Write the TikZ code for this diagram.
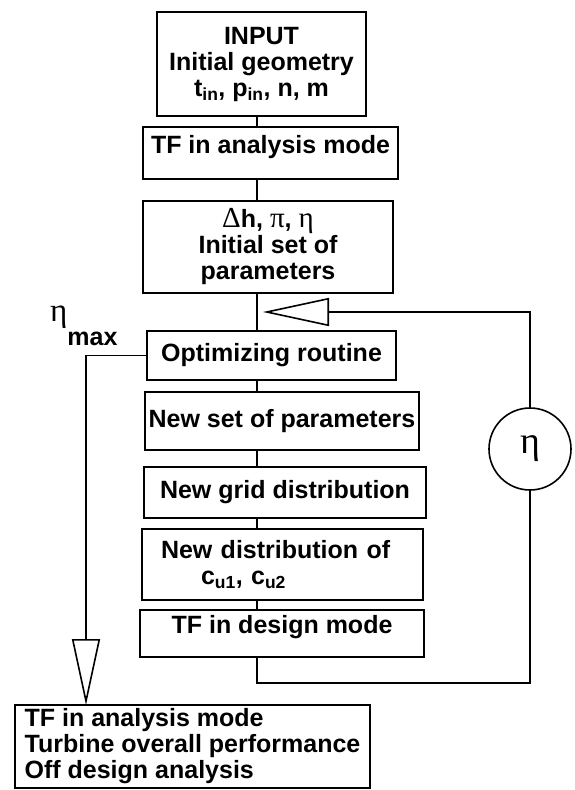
\documentclass[tikz,border=0pt]{standalone}
\usepackage{fontspec}
\setmainfont{Liberation Sans}
\newfontfamily\grk{Liberation Serif}
\usepackage{tikz}
\usetikzlibrary{arrows.meta}

\tikzset{
  blok/.style={draw, line width=1.6pt, inner sep=0pt, outer sep=0pt, anchor=north west,
    align=center, font=\bfseries\fontsize{25}{26}\selectfont},
  wire/.style={line width=1.6pt},
  bigtip/.style={-{Triangle[open, length=66pt, width=28pt, line width=1.6pt]}}
}
% greek letters come from the serif face, not bold
\newcommand{\gk}[1]{{\mdseries\grk\fontsize{29}{26}\selectfont #1}}

\begin{document}
\begin{tikzpicture}[x=1pt, y=1pt]
\useasboundingbox (0,0) rectangle (574,-790);

% main column
\node[blok, minimum width=209pt, minimum height=104pt] (input) at (157,-12)
  {INPUT\\Initial geometry\\t\textsubscript{in}, p\textsubscript{in}, n, m};
\node[blok, minimum width=255pt, minimum height=52pt, text height=18pt, text depth=18pt] (tfa) at (143,-127)
  {TF in analysis mode};
\node[blok, minimum width=250pt, minimum height=92pt] (init) at (143,-201)
  {\gk{Δ}h, \gk{π}, \gk{η}\\Initial set of\\parameters};
\node[blok, minimum width=249pt, minimum height=49pt] (opt) at (147,-331)
  {Optimizing routine};
\node[blok, minimum width=274pt, minimum height=58pt] (newset) at (145,-392)
  {New set of parameters};
\node[blok, minimum width=282pt, minimum height=51pt] (grid) at (144,-467)
  {New grid distribution};
\node[blok, minimum height=71pt, inner xsep=19pt, text width=243pt, align=left] (dist) at (142,-529)
  {New distribution of\\\hspace*{40pt}c\textsubscript{u1}, c\textsubscript{u2}};
\node[blok, minimum width=284pt, minimum height=47pt, text height=18pt, text depth=18pt] (design) at (140,-610)
  {TF in design mode};
\node[blok, minimum width=355pt, minimum height=83pt, align=left] (out) at (15,-705)
  {TF in analysis mode\\Turbine overall performance\\Off design analysis};

% loop pieces
\node[draw, circle, line width=1.6pt, minimum size=82pt, inner sep=0pt] (eta) at (530,-449)
  {\grk\fontsize{38}{38}\selectfont η};
\node[anchor=base west, inner sep=0pt, font=\bfseries\fontsize{25}{26}\selectfont] (etamax) at (50,-321)
  {\gk{\fontsize{33}{33}\selectfont η}\raisebox{-24pt}{max}};

\coordinate (spine) at (257,0);
\coordinate (turn) at (257,-683);
\coordinate (merge) at (263,-312);

\draw[wire] (input.south -| spine) -- (tfa.north -| spine);
\draw[wire] (tfa.south -| spine) -- (init.north -| spine);
\draw[wire] (init.south -| spine) -- (opt.north -| spine);
\draw[wire] (opt.south -| spine) -- (newset.north -| spine);
\draw[wire] (newset.south -| spine) -- (grid.north -| spine);
\draw[wire] (grid.south -| spine) -- (dist.north -| spine);
\draw[wire] (dist.south -| spine) -- (design.north -| spine);

% feedback through eta
\draw[wire] (design.south -| spine) -- (turn) -| (eta.south);
\draw[wire, bigtip] (eta.north) |- (merge);

% exit at eta max
\draw[wire, bigtip] (opt.west) -| ([xshift=71pt]out.north west);
\end{tikzpicture}
\end{document}
